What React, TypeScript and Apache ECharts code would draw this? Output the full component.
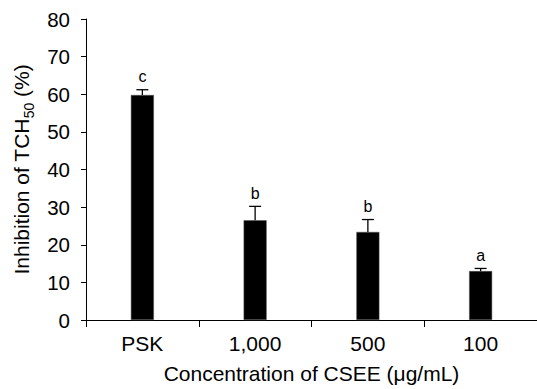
import React, { useEffect, useRef } from "react";
import * as echarts from "echarts";

const categories = ["PSK", "1,000", "500", "100"];
const means = [59.8, 26.5, 23.4, 13.0];
const errors = [1.4, 3.7, 3.3, 0.7];
const letters = ["c", "b", "b", "a"];
const yTicks = { min: 0, max: 80, interval: 10 };

const FONT = "'Liberation Sans', Arial, Helvetica, sans-serif";

export default function App() {
  const ref = useRef<HTMLDivElement>(null);
  useEffect(() => {
    if (!ref.current) return;
    const chart = echarts.init(ref.current, null, { renderer: "svg" });
    const errData = categories.map((c, i) => [i, means[i], means[i] + errors[i], letters[i]]);
    chart.setOption({
      animation: false,
      backgroundColor: "#ffffff",
      grid: { left: 86, top: 19, bottom: 67, right: -8, containLabel: false },
      xAxis: {
        type: "category",
        data: categories,
        boundaryGap: true,
        axisLine: { show: true, lineStyle: { color: "#000", width: 1 } },
        axisTick: { show: true, length: 7, alignWithLabel: false, lineStyle: { color: "#000" } },
        axisLabel: { color: "#000", fontSize: 21, fontFamily: FONT, margin: 13, interval: 0 },
        name: "Concentration of CSEE (\u03bcg/mL)",
        nameLocation: "middle",
        nameGap: 43,
        nameTextStyle: { color: "#000", fontSize: 21, fontFamily: FONT, verticalAlign: "top" },
      },
      yAxis: {
        type: "value",
        min: yTicks.min,
        max: yTicks.max,
        interval: yTicks.interval,
        splitLine: { show: false },
        axisLine: { show: true, lineStyle: { color: "#000", width: 1 } },
        axisTick: { show: true, length: 5, lineStyle: { color: "#000" } },
        axisLabel: { color: "#000", fontSize: 20.5, fontFamily: FONT, margin: 16 },
        name: "{a|Inhibition of TCH}{sub|50}{a| (%)}",
        nameLocation: "middle",
        nameGap: 50,
        nameRotate: 90,
        nameTextStyle: {
          color: "#000",
          fontFamily: FONT,
          fontSize: 21,
          rich: {
            a: { fontSize: 21, fontFamily: FONT, color: "#000", lineHeight: 25, verticalAlign: "bottom" },
            sub: { fontSize: 14, fontFamily: FONT, color: "#000", lineHeight: 25, verticalAlign: "bottom", padding: [0, 0, -4, 0] },
          },
        },
      },
      series: [
        {
          type: "bar",
          data: means,
          barWidth: 23,
          itemStyle: { color: "#000", borderColor: "#555", borderWidth: 0.5 },
          z: 2,
        },
        {
          type: "custom",
          data: errData,
          z: 3,
          renderItem: (params: any, api: any) => {
            const x = api.value(0);
            const lo = api.coord([x, api.value(1)]);
            const hi = api.coord([x, api.value(2)]);
            const half = 6;
            return {
              type: "group",
              children: [
                { type: "line", shape: { x1: lo[0], y1: lo[1], x2: hi[0], y2: hi[1] }, style: { stroke: "#000", lineWidth: 1.3 } },
                { type: "line", shape: { x1: hi[0] - half, y1: hi[1], x2: hi[0] + half, y2: hi[1] }, style: { stroke: "#000", lineWidth: 1.3 } },
                {
                  type: "text",
                  x: hi[0],
                  y: hi[1] - 5,
                  style: { text: String(api.value(3)), fill: "#000", fontSize: 16, fontFamily: FONT, align: "center", verticalAlign: "bottom" },
                },
              ],
            };
          },
        },
      ],
    });
    return () => chart.dispose();
  }, []);
  return <div ref={ref} style={{ position: "fixed", left: 0, top: 0, width: 537, height: 389 }} />;
}
